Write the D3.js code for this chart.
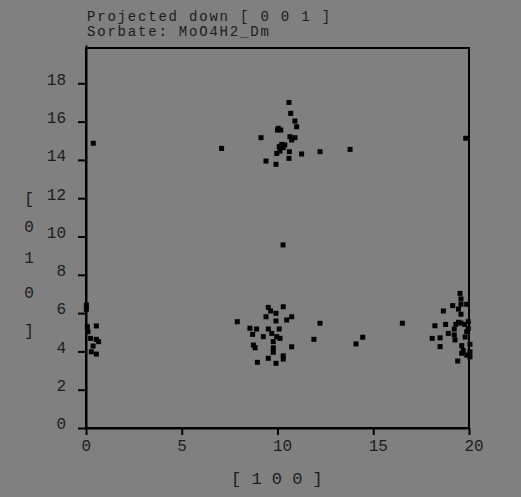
<!DOCTYPE html>
<html>
<head>
<meta charset="utf-8">
<script src="https://cdn.jsdelivr.net/npm/d3@7"></script>
<style>
  html, body { margin: 0; padding: 0; background: #808080; }
  svg { display: block; }
  text { font-family: "Liberation Mono", "DejaVu Sans Mono", monospace; fill: #1c1c1c; }
</style>
</head>
<body>
<svg id="chart"></svg>
<script>
// title lines
const titleLines = ['Projected down [ 0 0 1 ]', 'Sorbate: MoO4H2_Dm'];
const xLabelChars = '[ 1 0 0 ]';
const yLabelChars = ['[', '0', '1', '0', ']'];
const xTicks = [0, 5, 10, 15, 20];
const yTicks = [0, 2, 4, 6, 8, 10, 12, 14, 16, 18];

// positions, [x, y]
const topCluster = [
    [10.6, 17.0], [10.69, 16.43], [10.91, 16.03], [11.0, 15.73], [10.04, 15.65],
    [10.0, 15.56], [10.17, 15.56], [9.14, 15.16], [10.65, 15.21], [10.91, 15.16],
    [10.74, 15.04], [10.22, 14.81], [10.09, 14.69], [10.3, 14.64], [10.38, 14.78],
    [9.96, 14.34], [10.13, 14.46], [10.62, 14.43], [11.26, 14.31], [12.22, 14.43],
    [10.6, 14.08], [9.4, 13.94], [9.92, 13.77]
];
const strayPoints = [
    [0.38, 14.87], [7.08, 14.6], [13.79, 14.55], [19.83, 15.13], [10.29, 9.56],
    [7.9, 5.55], [12.22, 5.47], [11.9, 4.63], [14.45, 4.74], [14.1, 4.39], [16.52, 5.47]
];
const midCluster = [
    [9.52, 6.30], [10.3, 6.33], [9.64, 6.11], [9.92, 5.99], [9.4, 5.81],
    [10.74, 5.81], [10.48, 5.64], [9.92, 5.59], [8.56, 5.21], [8.91, 5.17],
    [9.52, 5.17], [10.09, 5.17], [8.7, 4.89], [9.26, 4.77], [9.7, 4.94],
    [9.96, 4.77], [10.13, 4.68], [9.78, 4.51], [8.74, 4.33], [8.83, 4.19],
    [10.74, 4.24], [9.78, 4.19], [9.78, 3.95], [10.3, 3.77], [10.3, 3.6],
    [9.52, 3.64], [8.95, 3.43], [9.92, 3.38]
];
const leftCluster = [
    [0.02, 6.42], [0.02, 6.2], [0.07, 5.29], [0.54, 5.33], [0.1, 5.03],
    [0.24, 4.68], [0.54, 4.63], [0.66, 4.51], [0.37, 4.28], [0.28, 3.98], [0.54, 3.86]
];
const rightCluster = [
    [19.53, 7.03], [19.58, 6.74], [19.15, 6.39], [19.58, 6.46], [19.88, 6.46],
    [18.66, 6.11], [19.45, 6.21], [19.58, 5.94], [19.96, 5.55], [18.22, 5.34],
    [18.78, 5.41], [19.31, 5.41], [19.45, 5.52], [19.58, 5.48], [19.78, 5.41],
    [19.23, 5.17], [19.96, 5.2], [18.92, 4.94], [19.88, 5.03], [18.08, 4.68],
    [18.49, 4.71], [19.23, 4.86], [19.27, 4.6], [18.49, 4.25], [19.62, 4.3],
    [20.05, 4.37], [19.62, 3.9], [19.88, 3.81], [20.05, 3.98], [19.41, 3.5],
    [20.05, 3.72], [19.7, 4.05], [19.8, 4.75]
];

const width = 521, height = 497;
const svg = d3.select('#chart').attr('width', width).attr('height', height);

const x = d3.scaleLinear().domain([0, 20]).range([86, 469]);
const y = d3.scaleLinear().domain([0, 20]).range([428, 45]);

// frame
svg.append('rect')
    .attr('x', x(0)).attr('y', 48)
    .attr('width', x(20) - x(0)).attr('height', y(0) - 48)
    .attr('fill', 'none').attr('stroke', '#000').attr('stroke-width', 2);

// axes
const xAxis = svg.append('g')
    .attr('transform', `translate(0, ${y(0)})`)
    .call(d3.axisBottom(x).tickValues(xTicks).tickSize(7).tickSizeOuter(0).tickPadding(4));
xAxis.selectAll('text')
    .attr('text-anchor', 'start').attr('x', -5).attr('dy', '0.75em')
    .style('font-size', '16px');

const yAxis = svg.append('g')
    .attr('transform', `translate(${x(0)}, 0)`)
    .call(d3.axisLeft(y).tickValues(yTicks).tickSize(8).tickSizeOuter(0).tickPadding(12));
yAxis.selectAll('text').attr('dy', '0.05em').style('font-size', '16px');

svg.selectAll('.domain, .tick line').attr('stroke', '#000').attr('stroke-width', 2);
svg.selectAll('.tick text').attr('fill', '#1c1c1c').style('font-family', '"Liberation Mono", monospace');

// points
const allPoints = [].concat(topCluster, strayPoints, midCluster, leftCluster, rightCluster);
const s = 5;
svg.append('g').selectAll('rect')
    .data(allPoints)
    .join('rect')
    .attr('x', d => x(d[0]) - s / 2)
    .attr('y', d => y(d[1]) - s / 2)
    .attr('width', s).attr('height', s)
    .attr('fill', '#000');

// title
svg.append('g').selectAll('text')
    .data(titleLines)
    .join('text')
    .attr('x', 87)
    .attr('y', (d, i) => 21 + i * 15)
    .style('font-size', '14px')
    .style('letter-spacing', '1.8px')
    .text(d => d);

// x label
svg.append('text')
    .attr('x', 231).attr('y', 484)
    .style('font-size', '17px')
    .attr('xml:space', 'preserve')
    .text(xLabelChars);

// y label, stacked characters
const yLabelPos = [198, 226, 257, 292, 330];
svg.append('g').selectAll('text')
    .data(yLabelChars)
    .join('text')
    .attr('x', 29)
    .attr('y', (d, i) => yLabelPos[i])
    .attr('dy', '0.35em')
    .attr('text-anchor', 'middle')
    .style('font-size', '16px')
    .text(d => d);
</script>
</body>
</html>
